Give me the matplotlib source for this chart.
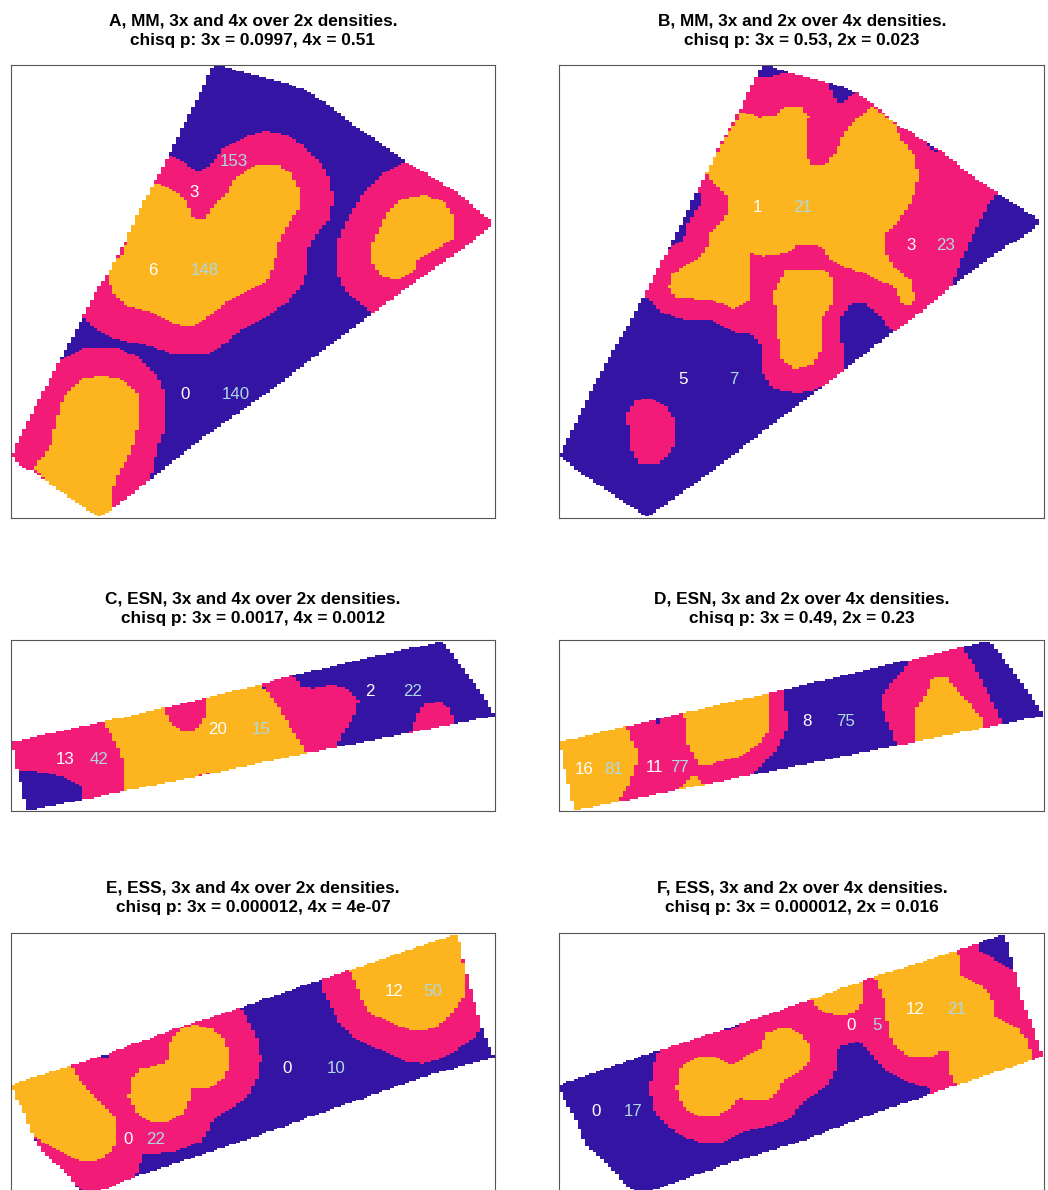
import matplotlib
matplotlib.use("Agg")
import matplotlib.pyplot as plt
import numpy as np
from matplotlib.colors import ListedColormap
from matplotlib.path import Path

plt.rcParams['font.family'] = ['Liberation Sans', 'DejaVu Sans']

W, H = 1048, 1190
CELL_W = 11.25  # map cell size, in map units (1 unit = 1/3 px)
CELL_H = 5.6
WHITE, BLUE, PINK, YELLOW = 0, 1, 2, 3
cmap = ListedColormap(["#ffffff", "#3415a3", "#f21c78", "#fdb51f"])
LOW_COL = "white"
HIGH_COL = "#add8e6"

titles = [
    "A, MM, 3x and 4x over 2x densities.\nchisq p: 3x = 0.0997, 4x = 0.51",
    "B, MM, 3x and 2x over 4x densities.\nchisq p: 3x = 0.53, 2x = 0.023",
    "C, ESN, 3x and 4x over 2x densities.\nchisq p: 3x = 0.0017, 4x = 0.0012",
    "D, ESN, 3x and 2x over 4x densities.\nchisq p: 3x = 0.49, 2x = 0.23",
    "E, ESS, 3x and 4x over 2x densities.\nchisq p: 3x = 0.000012, 4x = 4e-07",
    "F, ESS, 3x and 2x over 4x densities.\nchisq p: 3x = 0.000012, 2x = 0.016",
]

# region outlines
a_outline = [(660,47),(700,62),(770,80),(850,100),(930,130),(1000,180),(1070,235),(1140,280),(1210,335),(1280,375),(1370,430),(1476,520),(1460,540),(1400,590),(1340,630),(1240,700),(1120,790),(1000,880),(900,955),(800,1030),(700,1100),(600,1170),(520,1235),(450,1290),(340,1375),(300,1400),(260,1380),(180,1325),(100,1265),(60,1250),(33,1218),(60,1160),(100,1080),(150,985),(190,910),(240,820),(285,730),(330,660),(380,565),(420,475),(470,385),(510,310),(545,235),(590,150),(635,55)]
a_layers = [
    (PINK, [(510,320),(540,335),(590,365),(625,355),(670,295),(730,265),(790,248),(840,252),(880,268),(930,310),(965,345),(985,385),(997,440),(990,510),(960,540),(930,580),(918,620),(918,670),(905,705),(860,760),(800,800),(750,825),(705,855),(665,890),(620,915),(520,915),(430,885),(350,870),(300,850),(250,805),(200,790),(300,650),(450,350)]),
    (YELLOW, [(470,400),(510,420),(550,445),(570,480),(580,512),(610,512),(640,470),(680,430),(705,385),(770,345),(830,345),(870,370),(895,420),(895,480),(860,530),(830,590),(825,630),(805,690),(750,720),(690,750),(640,790),(590,825),(545,830),(480,805),(440,785),(380,770),(345,740),(328,700),(328,650),(370,610),(385,540),(420,470),(450,420)]),
    (PINK, [(1210,343),(1150,370),(1090,430),(1040,510),(1010,580),(1010,670),(1030,720),(1090,770),(1120,800),(1300,800),(1500,520),(1300,350)]),
    (YELLOW, [(1200,450),(1270,438),(1330,455),(1360,500),(1360,565),(1310,600),(1250,632),(1240,665),(1190,693),(1140,680),(1115,640),(1112,590),(1135,545),(1160,490)]),
    (PINK, [(190,925),(260,895),(350,897),(410,920),(470,980),(497,1040),(497,1130),(470,1200),(450,1290),(340,1400),(100,1300),(0,1230),(100,1000)]),
    (YELLOW, [(100,1255),(150,1190),(168,1110),(190,1040),(240,990),(300,980),(370,990),(415,1040),(415,1120),(395,1200),(350,1280),(338,1320),(338,1385),(300,1420),(200,1350)]),
]

b_outline = [(650,47),(700,65),(770,85),(840,100),(920,130),(970,165),(1040,225),(1110,265),(1180,310),(1260,375),(1340,428),(1472,515),(1440,550),(1340,610),(1220,700),(1100,800),(1000,870),(880,965),(780,1040),(660,1130),(560,1210),(440,1300),(340,1370),(295,1402),(250,1375),(160,1315),(80,1260),(30,1218),(60,1155),(100,1075),(140,995),(190,905),(240,820),(285,735),(340,630),(380,555),(430,450),(470,375),(520,270),(575,175),(620,80),(635,52)]
b_layers = [
    (PINK, [(285,735),(340,790),(400,810),(480,810),(560,850),(610,855),(630,885),(632,965),(675,1020),(740,1030),(800,1022),(880,970),(880,905),(870,810),(905,760),(950,765),(1000,810),(1030,850),(1210,725),(1210,695),(1245,610),(1310,475),(1345,430),(1200,250),(900,60),(650,20),(560,100),(500,200),(200,700)]),
    (BLUE, [(630,52),(620,88),(680,80),(712,72),(660,40)]),
    (BLUE, [(835,100),(860,160),(880,160),(915,130),(880,110)]),
    (BLUE, [(360,597),(370,590),(402,570),(415,525),(440,480),(460,465),(460,430),(435,430),(380,530),(340,610)]),
    (BLUE, [(1128,280),(1140,280),(1165,310),(1152,310)]),
    (PINK, [(295,1045),(255,1055),(235,1090),(235,1125),(245,1140),(245,1200),(268,1245),(325,1245),(358,1215),(380,1180),(380,1120),(345,1065)]),
    (YELLOW, [(575,190),(630,205),(675,200),(700,175),(755,175),(777,205),(767,240),(767,320),(790,350),(825,350),(860,305),(880,260),(905,225),(965,173),(1000,195),(1040,230),(1050,265),(1095,320),(1107,380),(1085,460),(1050,510),(1005,555),(1005,600),(1030,650),(1085,695),(1095,750),(1080,767),(1060,767),(1030,705),(985,695),(940,670),(890,655),(845,635),(820,600),(800,587),(745,587),(715,610),(645,620),(597,610),(597,755),(555,778),(480,750),(380,745),(358,715),(370,670),(430,640),(470,600),(485,545),(540,490),(530,440),(470,375),(520,280)]),
    (YELLOW, [(710,660),(825,660),(845,685),(847,765),(825,790),(810,830),(810,905),(790,945),(735,960),(700,935),(690,905),(675,770),(665,750),(680,710)]),
]

c_outline = [(32,337),(300,278),(620,205),(880,137),(1100,85),(1325,35),(1360,80),(1420,160),(1485,258),(1210,313),(920,370),(640,430),(370,485),(80,543),(65,480),(55,430),(43,408),(43,360),(32,358)]
c_layers = [
    (PINK, [(20,330),(305,270),(340,330),(372,400),(372,490),(250,510),(248,470),(180,440),(110,425),(50,422),(20,400)]),
    (YELLOW, [(305,270),(485,230),(780,160),(840,240),(880,310),(925,380),(372,490),(372,400),(340,330)]),
    (PINK, [(485,225),(622,195),(610,275),(575,305),(545,305),(510,280)]),
    (PINK, [(590,438),(632,428),(632,440),(590,445)]),
    (PINK, [(780,155),(870,130),(905,170),(935,175),(990,165),(1040,175),(1075,215),(1060,260),(1040,290),(1020,320),(1010,355),(925,380),(880,310),(840,240)]),
    (PINK, [(1225,315),(1250,255),(1270,225),(1320,215),(1350,240),(1362,290),(1300,300)]),
]

d_outline = [(28,337),(230,290),(650,192),(1080,90),(1320,33),(1360,85),(1420,165),(1483,258),(1200,315),(1040,348),(600,437),(400,478),(200,518),(75,543),(60,480),(50,430),(38,405),(38,360),(28,358)]
d_layers = [
    (YELLOW, [(20,330),(232,285),(245,330),(268,370),(255,420),(235,470),(200,525),(70,550),(20,400)]),
    (PINK, [(232,285),(402,245),(653,185),(697,175),(710,250),(710,300),(690,345),(670,375),(640,400),(600,442),(200,525),(235,470),(255,420),(268,370),(245,330)]),
    (YELLOW, [(402,245),(653,185),(653,310),(620,350),(570,380),(480,405),(445,405),(415,340)]),
    (BLUE, [(323,268),(335,268),(335,285),(323,285)]),
    (YELLOW, [(385,485),(415,450),(435,438),(465,465)]),
    (PINK, [(1085,85),(1235,50),(1270,100),(1300,160),(1330,220),(1358,282),(1310,300),(1040,355),(1030,310),(1005,265),(993,205),(1015,170),(1060,125)]),
    (YELLOW, [(1095,340),(1095,245),(1130,190),(1150,145),(1190,140),(1230,190),(1270,235),(1300,270),(1305,297)]),
]

e_outline = [(32,478),(210,422),(310,390),(530,310),(715,250),(960,165),(1050,135),(1370,27),(1385,90),(1405,175),(1440,300),(1475,385),(1485,397),(1300,445),(1000,550),(750,640),(390,760),(270,810),(245,810),(200,745),(140,695),(100,640),(85,600),(65,545),(45,515)]
e_layers = [
    (PINK, [(100,630),(215,410),(310,380),(530,300),(715,240),(745,290),(770,340),(782,400),(770,460),(745,510),(700,545),(650,575),(632,590),(630,610),(600,650),(520,680),(430,688),(405,750),(385,770),(270,820),(200,750),(120,680)]),
    (YELLOW, [(20,478),(210,415),(240,470),(290,520),(340,570),(350,590),(350,655),(330,680),(290,708),(240,708),(190,685),(110,640),(90,620),(60,550)]),
    (BLUE, [(303,380),(330,375),(327,403),(305,403)]),
    (YELLOW, [(585,300),(630,310),(670,340),(690,395),(680,440),(665,465),(620,490),(567,492),(567,525),(545,570),(500,590),(450,590),(410,565),(385,515),(395,460),(420,430),(497,415),(510,350),(540,310)]),
    (PINK, [(962,160),(1050,130),(1400,20),(1415,175),(1430,230),(1450,300),(1420,340),(1375,370),(1320,400),(1270,415),(1210,408),(1130,370),(1060,340),(1020,300),(985,230),(962,190)]),
    (YELLOW, [(1045,130),(1370,20),(1385,90),(1395,180),(1390,215),(1350,270),(1300,312),(1230,318),(1180,295),(1115,270),(1085,230),(1065,170)]),
]

f_outline = [(28,480),(300,385),(520,315),(780,225),(960,160),(1200,85),(1365,27),(1392,130),(1415,220),(1450,310),(1480,395),(1220,480),(960,570),(750,650),(550,710),(270,810),(230,780),(170,715),(110,660),(85,600),(65,560),(40,515),(32,495)]
f_layers = [
    (PINK, [(335,365),(520,305),(780,215),(960,150),(1220,65),(1290,45),(1290,80),(1392,135),(1425,220),(1460,310),(1490,400),(1220,490),(1140,515),(1140,490),(1060,465),(1000,430),(950,370),(930,350),(880,360),(860,380),(855,440),(830,485),(760,530),(720,580),(650,605),(585,620),(520,650),(450,650),(390,630),(340,590),(310,550),(300,490),(313,415)]),
    (BLUE, [(515,310),(560,290),(565,305),(535,318)]),
    (YELLOW, [(778,215),(938,165),(938,230),(915,265),(870,275),(820,262),(795,240)]),
    (YELLOW, [(972,150),(1222,65),(1235,155),(1290,180),(1325,210),(1335,275),(1410,315),(1435,350),(1448,410),(1222,490),(1200,440),(1197,380),(1175,375),(1150,395),(1080,395),(1030,360),(1015,310),(1005,230)]),
    (YELLOW, [(705,307),(750,325),(778,360),(778,410),(750,440),(700,465),(685,500),(650,525),(565,520),(545,550),(500,575),(450,575),(400,545),(380,490),(395,425),(450,392),(500,395),(545,420),(630,370),(650,325)]),
]

# counts printed on each panel
a_counts = [(581,423,"3",701,328,"153"),(459,657,"6",615,657,"148"),(554,1028,"0",708,1028,"140")]
b_counts = [(623,466,"1",758,466,"21"),(1082,582,"3",1188,582,"23"),(400,985,"5",552,985,"7")]
c_counts = [(194,382,"13",296,382,"42"),(654,294,"20",785,294,"15"),(1111,178,"2",1237,178,"22")]
d_counts = [(103,415,"16",191,415,"81"),(314,408,"11",388,408,"77"),(772,270,"8",886,270,"75")]
e_counts = [(384,638,"0",468,638,"22"),(860,425,"0",1009,425,"10"),(1184,193,"12",1299,193,"50")]
f_counts = [(137,555,"0",249,555,"17"),(902,298,"0",980,298,"5"),(1096,249,"12",1219,249,"21")]

panels = [
    (a_outline, a_layers, a_counts, 0, 50, 32, 1486, 45, 1405),
    (b_outline, b_layers, b_counts, 550, 50, 28, 1483, 45, 1405),
    (c_outline, c_layers, c_counts, 0, 630, 32, 1486, 31, 544),
    (d_outline, d_layers, d_counts, 550, 630, 28, 1483, 31, 544),
    (e_outline, e_layers, e_counts, 0, 925, 32, 1486, 25, 830),
    (f_outline, f_layers, f_counts, 550, 925, 28, 1483, 25, 830),
]
title_y = [30.5, 30.5, 608.5, 608.5, 898, 898]

fig = plt.figure(figsize=(W / 100, H / 100), dpi=100)

for i, (outline, layers, counts, ox, oy, x0, x1, y0, y1) in enumerate(panels):
    left, right = ox + x0 / 3, ox + x1 / 3
    top, bottom = oy + y0 / 3, oy + y1 / 3
    ax = fig.add_axes([left / W, 1 - bottom / H, (right - left) / W, (bottom - top) / H])

    xs = np.arange(x0, x1, CELL_W) + CELL_W / 2
    ys = np.arange(y0, y1, CELL_H) + CELL_H / 2
    gx, gy = np.meshgrid(xs, ys)
    pts = np.column_stack([gx.ravel(), gy.ravel()])

    grid = np.zeros(gx.shape, dtype=int)
    inside = Path(outline).contains_points(pts).reshape(gx.shape)
    grid[inside] = BLUE
    for kind, poly in layers:
        hit = Path(poly).contains_points(pts).reshape(gx.shape)
        grid[hit & inside] = kind

    ax.imshow(grid, cmap=cmap, vmin=0, vmax=3, interpolation="nearest",
              extent=[xs[0] - CELL_W / 2, xs[-1] + CELL_W / 2, ys[-1] + CELL_H / 2, ys[0] - CELL_H / 2],
              aspect="auto")
    ax.set_xlim(x0, x1)
    ax.set_ylim(y1, y0)
    ax.set_xticks([])
    ax.set_yticks([])
    for s in ax.spines.values():
        s.set_linewidth(0.8)
        s.set_color("#555555")

    for lx, ly, low, hx, hy, high in counts:
        ax.text(lx, ly + 5, low, color=LOW_COL, fontsize=12.2, ha="center", va="center")
        ax.text(hx, hy + 5, high, color=HIGH_COL, fontsize=12.2, ha="center", va="center")

    fig.text((left + right) / 2 / W, 1 - title_y[i] / H, titles[i], ha="center", va="center",
             fontsize=12.4, fontweight="bold", linespacing=1.41)

fig.savefig("out.png", dpi=100)
